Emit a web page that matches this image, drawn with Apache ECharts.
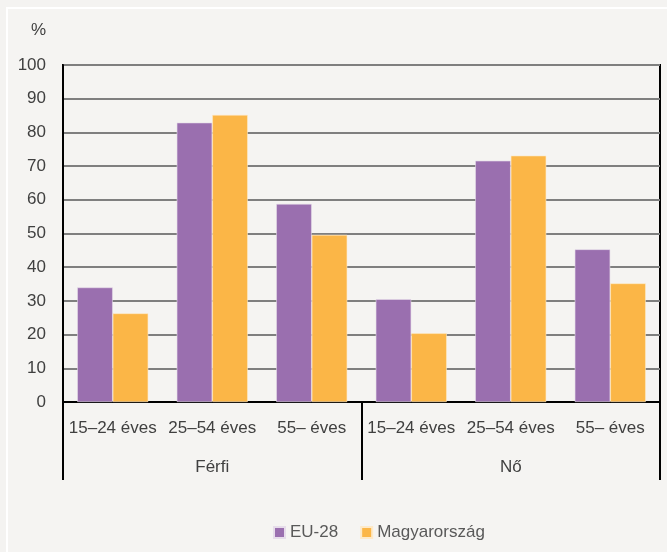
<!DOCTYPE html>
<html><head><meta charset="utf-8">
<script src="https://cdn.jsdelivr.net/npm/echarts@6/dist/echarts.min.js"></script>
<style>html,body{margin:0;padding:0;background:#f4f3f1}#c{width:667px;height:552px}</style>
</head><body><div id="c"></div>
<script>
const categories = ['15–24 éves','25–54 éves','55– éves','15–24 éves','25–54 éves','55– éves'];
const groups = ['Férfi','Nő'];
const seriesNames = ['EU-28','Magyarország'];
const eu28 = [34.0, 82.9, 58.8, 30.5, 71.6, 45.3];
const hungary = [26.3, 85.2, 49.6, 20.4, 73.1, 35.2];
const colors = ['#9a6faf','#fbb647'];
const font = '"Liberation Sans", Arial, sans-serif';
const fs = 17;
const chart = echarts.init(document.getElementById('c'));
chart.setOption({
  backgroundColor:'#f4f3f1',
  animation:false,
  graphic:[{type:'rect',shape:{x:7,y:8,width:700,height:600},style:{fill:'#f5f4f2',stroke:'#ffffff',lineWidth:2},z:-10}],
  title:{text:'%',left:26,top:17,textStyle:{fontFamily:font,fontSize:fs,fontWeight:'normal',color:'#404040'}},
  grid:{left:63,right:7,top:65,bottom:150,show:true,borderColor:'#000',borderWidth:2,backgroundColor:'transparent'},
  legend:{data:seriesNames,left:268,top:519,itemWidth:11,itemHeight:11,itemGap:22,icon:'rect',
    textStyle:{fontFamily:font,fontSize:fs,color:'#595959'}},
  xAxis:[
    {type:'category',data:categories,position:'bottom',
     axisLine:{show:true,lineStyle:{color:'#000',width:2}},axisTick:{show:false},
     axisLabel:{fontFamily:font,fontSize:fs,color:'#404040',margin:18,interval:0}},
    {type:'category',data:groups,position:'bottom',
     axisLine:{show:false},axisTick:{show:true,length:78,lineStyle:{color:'#000',width:2}},
     axisLabel:{fontFamily:font,fontSize:fs,color:'#404040',margin:57}}
  ],
  yAxis:{type:'value',min:0,max:100,interval:10,
    axisLine:{show:true,lineStyle:{color:'#000',width:2}},axisTick:{show:false},
    axisLabel:{fontFamily:font,fontSize:fs,color:'#404040',margin:17},
    splitLine:{lineStyle:{color:'#7f7f7f',width:2}}},
  series:[
    {name:seriesNames[0],type:'bar',data:eu28,xAxisIndex:0,barGap:'0%',barCategoryGap:'28.6%',
     itemStyle:{color:colors[0],borderColor:'#e6dcea',borderWidth:0.6}},
    {name:seriesNames[1],type:'bar',data:hungary,xAxisIndex:0,barGap:'0%',barCategoryGap:'28.6%',
     itemStyle:{color:colors[1],borderColor:'#fde9c8',borderWidth:0.6}}
  ]
});
</script></body></html>
